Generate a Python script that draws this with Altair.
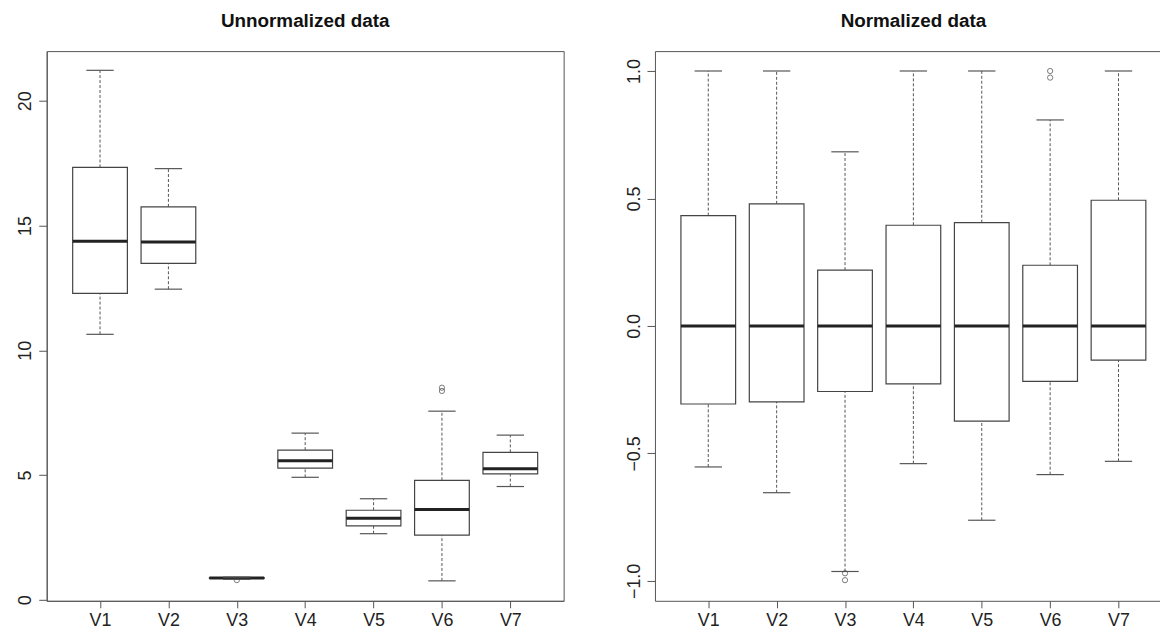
import altair as alt
import pandas as pd

names = ["V1", "V2", "V3", "V4", "V5", "V6", "V7"]

# Unnormalized data (box statistics)
u_lower = [10.64, 12.45, 0.82, 4.91, 2.65, 0.76, 4.54]
u_q1 = [12.28, 13.48, 0.86, 5.28, 2.96, 2.59, 5.05]
u_median = [14.37, 14.34, 0.875, 5.57, 3.27, 3.62, 5.25]
u_q3 = [17.33, 15.75, 0.89, 6.00, 3.59, 4.79, 5.91]
u_upper = [21.22, 17.28, 0.91, 6.68, 4.05, 7.56, 6.60]
u_out_var = ["V3", "V6", "V6"]
u_out_val = [0.79, 8.37, 8.50]

# Normalized data
n_lower = [-0.553, -0.654, -0.963, -0.540, -0.762, -0.583, -0.531]
n_q1 = [-0.306, -0.298, -0.257, -0.227, -0.373, -0.217, -0.134]
n_median = [0.0, 0.0, 0.0, 0.0, 0.0, 0.0, 0.0]
n_q3 = [0.433, 0.479, 0.219, 0.395, 0.405, 0.238, 0.493]
n_upper = [1.0, 1.0, 0.683, 1.0, 1.0, 0.808, 1.0]
n_out_var = ["V3", "V3", "V6", "V6"]
n_out_val = [-0.970, -0.997, 0.974, 1.0]

FONT = "Liberation Sans"
LINE = "#555555"
INK = "#222222"

label_expr = "[" + ",".join("'%s'" % n for n in names) + "][datum.value - 1]"


def stats_df(lower, q1, med, q3, upper):
    return pd.DataFrame({
        "var": names,
        "pos": [names.index(n) + 1 for n in names],
        "lower": lower, "q1": q1, "median": med, "q3": q3, "upper": upper,
    })


def out_df(var, val):
    return pd.DataFrame({"var": var, "pos": [names.index(v) + 1 for v in var], "value": val})


def panel(stats, outs, ydom, yvals, yfmt, xdom, width, height, title, title_dx, top_frame):
    xs = alt.Scale(domain=xdom, nice=False, zero=False)
    ys = alt.Scale(domain=ydom, nice=False, zero=False)
    xaxis = alt.Axis(values=list(range(1, len(names) + 1)), labelExpr=label_expr,
                     title=None, grid=False, tickSize=7, labelPadding=4,
                     labelFontSize=18, labelFont=FONT, labelColor=INK,
                     domainColor=LINE, tickColor=LINE, labelBaseline="top")
    yaxis = alt.Axis(values=yvals, format=yfmt, title=None, grid=False, tickSize=8,
                     labelPadding=4, labelAngle=-90, labelAlign="center",
                     labelBaseline="bottom", labelFontSize=18, labelFont=FONT,
                     labelColor=INK, domainColor=LINE, tickColor=LINE)

    base = alt.Chart(stats).transform_calculate(
        lo="datum.pos - 0.4", hi="datum.pos + 0.4",
        clo="datum.pos - 0.2", chi="datum.pos + 0.2")

    whisk_hi = base.mark_rule(color=LINE, strokeDash=[3, 2], strokeWidth=1).encode(
        x=alt.X("pos:Q", scale=xs, axis=xaxis),
        y=alt.Y("q3:Q", scale=ys, axis=yaxis), y2="upper:Q")
    whisk_lo = base.mark_rule(color=LINE, strokeDash=[3, 2], strokeWidth=1).encode(
        x=alt.X("pos:Q", scale=xs, axis=xaxis),
        y=alt.Y("lower:Q", scale=ys, axis=yaxis), y2="q1:Q")
    cap_hi = base.mark_rule(color=LINE, strokeWidth=1.2).encode(
        x=alt.X("clo:Q", scale=xs, axis=xaxis), x2="chi:Q",
        y=alt.Y("upper:Q", scale=ys, axis=yaxis))
    cap_lo = base.mark_rule(color=LINE, strokeWidth=1.2).encode(
        x=alt.X("clo:Q", scale=xs, axis=xaxis), x2="chi:Q",
        y=alt.Y("lower:Q", scale=ys, axis=yaxis))
    box = base.mark_rect(fill="white", stroke="#444444", strokeWidth=1.2).encode(
        x=alt.X("lo:Q", scale=xs, axis=xaxis), x2="hi:Q",
        y=alt.Y("q1:Q", scale=ys, axis=yaxis), y2="q3:Q")
    med = base.mark_rule(color=INK, strokeWidth=3).encode(
        x=alt.X("lo:Q", scale=xs, axis=xaxis), x2="hi:Q",
        y=alt.Y("median:Q", scale=ys, axis=yaxis))
    pts = alt.Chart(outs).mark_point(shape="circle", filled=False, size=28,
                                     color="#444444", strokeWidth=1).encode(
        x=alt.X("pos:Q", scale=xs, axis=xaxis),
        y=alt.Y("value:Q", scale=ys, axis=yaxis))

    inner = alt.layer(whisk_hi, whisk_lo, box, med, cap_hi, cap_lo, pts)
    tparams = alt.TitleParams(title, font=FONT, fontSize=19, fontWeight="bold",
                              color="#111111", anchor="middle", offset=20, dx=title_dx)
    if not top_frame:
        return inner.properties(width=width, height=height, title=tparams)

    top_axis = alt.Axis(orient="top", labels=False, ticks=False, domain=True,
                        grid=False, title=None, domainColor=LINE)
    frame = alt.Chart(stats).mark_point(opacity=0).encode(
        x=alt.X("pos:Q", scale=xs, axis=top_axis),
        y=alt.Y("median:Q", scale=ys, axis=yaxis))
    return alt.layer(inner, frame).resolve_axis(x="independent").properties(
        width=width, height=height, title=tparams,
        view=alt.ViewBackground(strokeOpacity=0))


left = panel(stats_df(u_lower, u_q1, u_median, u_q3, u_upper),
             out_df(u_out_var, u_out_val),
             [-0.04, 21.99], [0, 5, 10, 15, 20], "d",
             [0.22, 7.78], 521, 554, "Unnormalized data", 0, False)

right = panel(stats_df(n_lower, n_q1, n_median, n_q3, n_upper),
              out_df(n_out_var, n_out_val),
              [-1.078, 1.078], [-1.0, -0.5, 0.0, 0.5, 1.0], ".1f",
              [0.22, 7.607], 509, 554, "Normalized data", 6, True)

chart = alt.hconcat(left, right, spacing=92, bounds="flush").properties(
    padding={"left": 8, "top": 1, "right": 0, "bottom": 0}
).configure_view(stroke=LINE, strokeWidth=1)

chart.save("out.html", embed_options={"renderer": "svg", "actions": False})
